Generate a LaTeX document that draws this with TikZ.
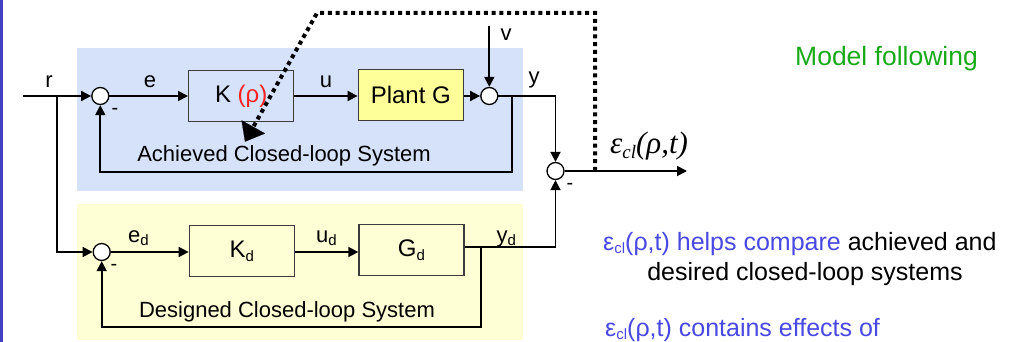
\documentclass[tikz,border=0pt]{standalone}
\usepackage{fontspec}
\setmainfont{Liberation Sans}
\newfontfamily\tmsfont{Liberation Serif}
\usetikzlibrary{arrows.meta}
\definecolor{bgblue}{RGB}{213,226,250}
\definecolor{bgyellow}{RGB}{255,255,213}
\definecolor{plantyellow}{RGB}{255,255,153}
\definecolor{barblue}{RGB}{64,64,192}
\definecolor{txtblue}{RGB}{72,72,226}
\definecolor{txtgreen}{RGB}{24,170,24}
\definecolor{txtred}{RGB}{255,32,32}
\definecolor{boxgray}{RGB}{60,60,60}
\newcommand{\lowsub}[1]{\raisebox{-0.3ex}{\fontsize{15}{15}\selectfont #1}}
\newcommand{\fsz}[1]{\fontsize{#1}{#1}\selectfont}
\begin{document}
\begin{tikzpicture}[x=1pt,y=-1pt,
  sig/.style={line width=1.8pt,-{Triangle[length=10pt,width=10pt]}},
  wire/.style={line width=1.8pt},
  sumnode/.style={circle,draw,line width=1.3pt,fill=white,minimum size=17pt,inner sep=0pt},
  blk/.style={draw=boxgray,line width=1.4pt,inner sep=0pt,minimum width=105pt,minimum height=51pt,font=\fsz{24}},
  lbl/.style={font=\fsz{22},inner sep=0pt},
  adapt/.style={line width=4pt,dash pattern=on 4pt off 3.8pt,-{Triangle[length=17pt,width=27pt,line width=0.1pt]}}
]
\useasboundingbox (0,0) rectangle (1018,342);
% backgrounds
\fill[barblue] (0,0) rectangle (2.5,342);
\fill[bgblue] (77,48) rectangle (523,191);
\fill[bgyellow] (77,204) rectangle (523,340);

% top loop
\node[sumnode] (s1) at (100.3,96) {};
\node[blk,fill=bgblue] (K) at (241.2,96) {K {\color{txtred}(ρ)}};
\node[blk,fill=plantyellow] (P) at (410.8,95) {Plant G};
\node[sumnode] (s3) at (489.3,96) {};
\node[sumnode] (s4) at (555.5,171) {};
\coordinate (rin) at (23,96);
\coordinate (rbr) at (57.3,96);
\coordinate (vin) at (489.3,26);
\coordinate (ybr) at (512,96);
\coordinate (fb1) at (100.3,172);
\coordinate (out) at (687,171);

\draw[wire] (rin) -- (rbr);
\draw[sig] (rbr) -- (s1.west);
\draw[sig] (s1.east) -- (K.west);
\draw[sig] (K.east) -- (K.east -| P.west);
\draw[sig] (P.east |- s3.west) -- (s3.west);
\draw[sig] (vin) -- (s3.north);
\draw[sig] (s3.east) -| (s4.north);
\draw[sig] (ybr) |- (fb1) -- (s1.south);
\draw[sig] (s4.east) -- (out);

% bottom loop
\node[sumnode] (s2) at (101.7,252) {};
\node[blk] (Kd) at (241.8,251) {K\lowsub{d}};
\node[blk] (Gd) at (411.5,250) {G\lowsub{d}};
\coordinate (ydc) at (555.5,247);
\coordinate (ydbr) at (481,247);
\coordinate (fb2) at (101.7,327);

\draw[sig] (rbr) |- (s2.west);
\draw[sig] (s2.east) -- (s2.east -| Kd.west);
\draw[sig] (Kd.east |- s2.east) -- (Gd.west |- s2.east);
\draw[wire] (Gd.east |- ydc) -- (ydc);
\draw[sig] (ydc) -- (s4.south);
\draw[sig] (ydbr) |- (fb2) -- (s2.south);

% labels
\node[lbl] at (49,82) {r};
\node[lbl] at (150,82) {e};
\node[lbl] at (326,82) {u};
\node[lbl] at (506,35) {v};
\node[lbl] at (534,80) {y};
\node[lbl,font=\fsz{20}] at (115,111) {-};
\node[lbl,font=\fsz{20}] at (114,267) {-};
\node[lbl,font=\fsz{20}] at (570,186) {-};
\node[lbl,anchor=base west] at (128,242) {e\lowsub{d}};
\node[lbl,anchor=base west] at (316,242) {u\lowsub{d}};
\node[lbl,anchor=base west] at (496.5,242) {y\lowsub{d}};
\node[lbl,anchor=base] at (284,162) {Achieved Closed-loop System};
\node[lbl,anchor=base] at (287,317) {Designed Closed-loop System};
\node[inner sep=0pt,anchor=base west,font=\fsz{31}\tmsfont\itshape] (eps) at (610,154) {ε\raisebox{-0.35ex}{\fontsize{19}{19}\selectfont cl}(ρ,t)};

% adaptation path
\coordinate (tap) at (595,171);
\coordinate (top) at (595,13);
\coordinate (bend) at (317,13);
\coordinate (tip) at (245,141.7);
\draw[adapt] (tap) -- (top) -- (bend) -- (tip);

% right texts
\node[inner sep=0pt,anchor=base west,font=\fsz{26.5},text=txtgreen] at (795,66) {Model following};
\node[inner sep=0pt,anchor=base west,font=\fsz{25}] at (603,250) {{\color{txtblue}ε\lowsub{cl}(ρ,t) helps compare} achieved and};
\node[inner sep=0pt,anchor=base,font=\fsz{25}] at (805,280) {desired closed-loop systems};
\node[inner sep=0pt,anchor=base west,font=\fsz{25},text=txtblue] at (605,336) {ε\lowsub{cl}(ρ,t) contains effects of};
\end{tikzpicture}
\end{document}
